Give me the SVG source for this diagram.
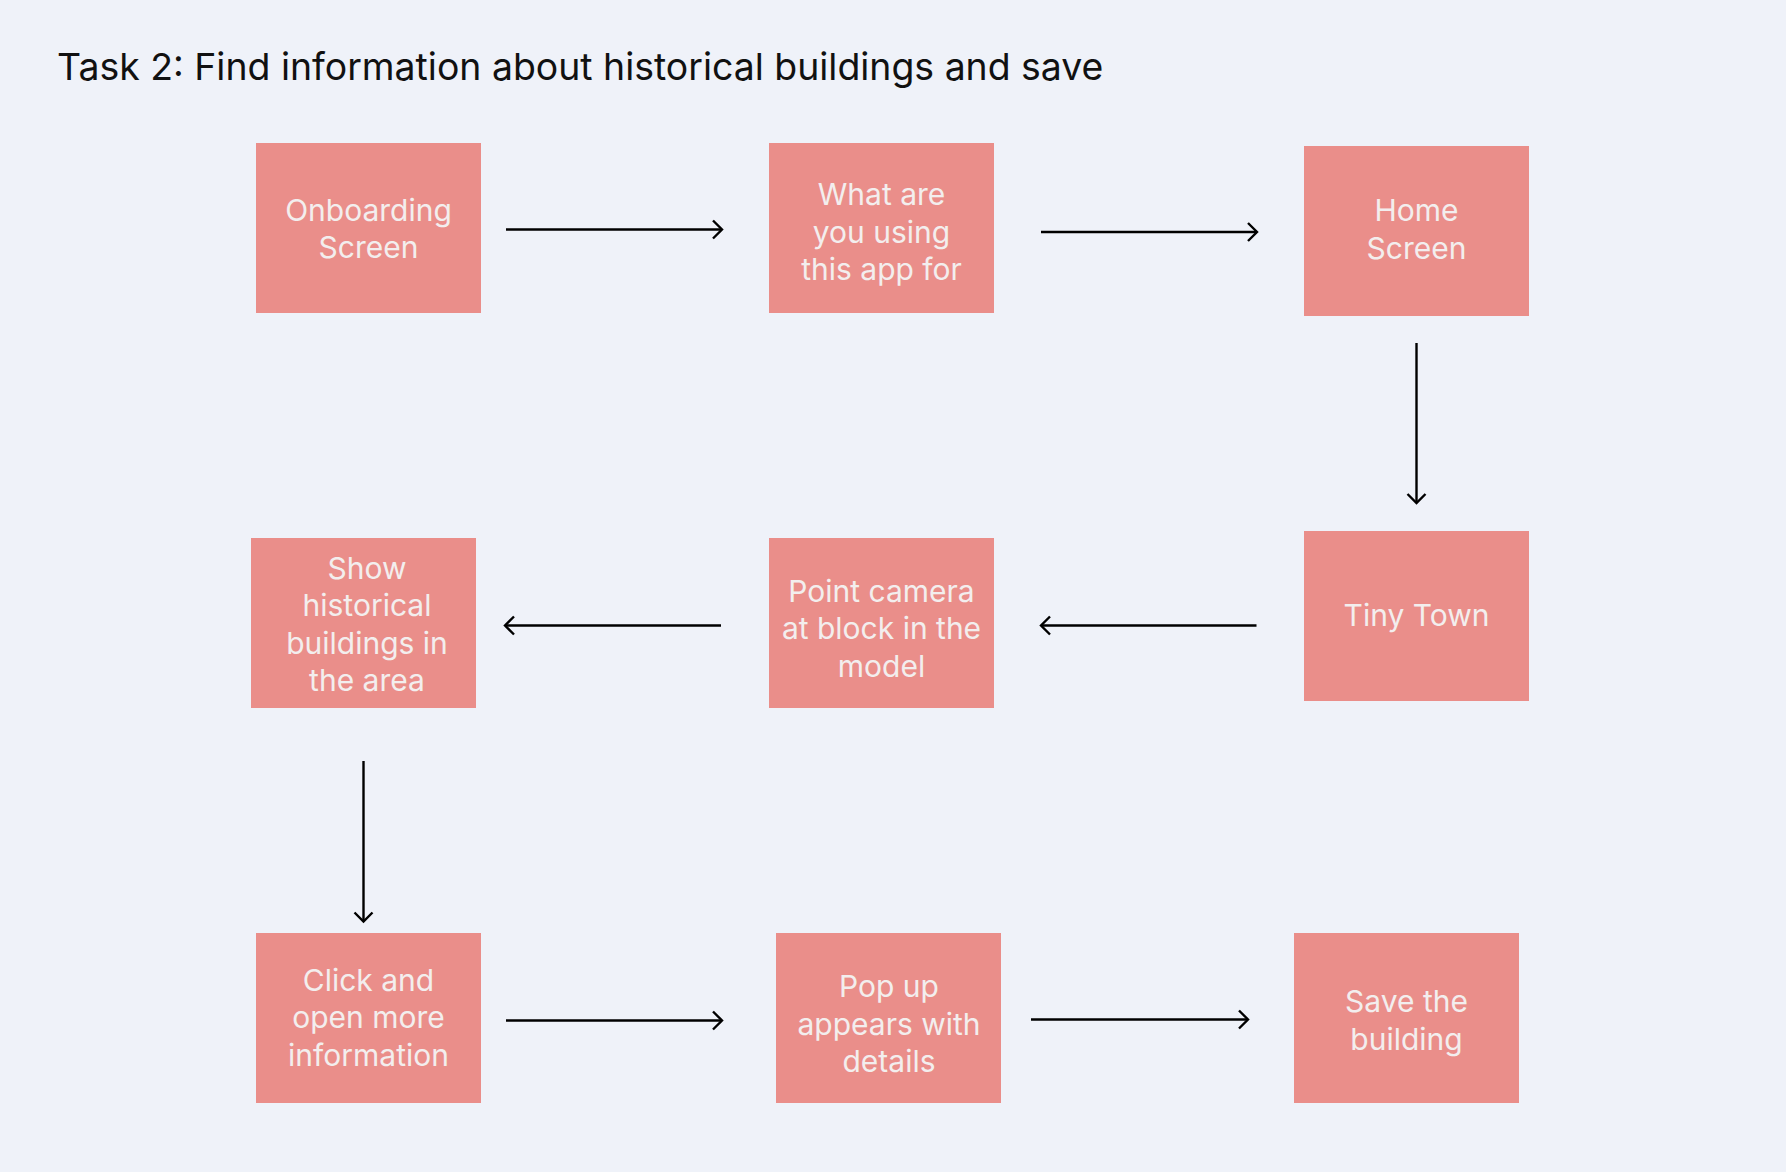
<svg xmlns="http://www.w3.org/2000/svg" width="1786" height="1172" viewBox="0 0 1786 1172">
  <style>
    .box { fill: #EA8E8A; }
    .lbl { font-family: Inter, "Open Sans", "Liberation Sans", sans-serif; font-size: 30px; fill: #F3EEEE; text-anchor: middle; }
    .title { font-family: Inter, "Open Sans", "Liberation Sans", sans-serif; font-size: 37.4px; fill: #111111; }
    .conn { stroke: #000000; stroke-width: 2.4; fill: none; marker-end: url(#arr); }
  </style>
  <defs>
    <marker id="arr" markerUnits="userSpaceOnUse" markerWidth="26" markerHeight="26" viewBox="-13 -13 26 26" refX="0" refY="0" orient="auto">
      <path d="M-9,-9 L0,0 L-9,9" fill="none" stroke="#000000" stroke-width="2.4"/>
    </marker>
  </defs>
  <rect x="0" y="0" width="1786" height="1172" fill="#EFF2F9"/>
  <text class="title" x="57" y="79.5">Task 2: Find information about historical buildings and save</text>

  <g id="n1">
    <rect class="box" x="256" y="143" width="225" height="170"/>
    <text class="lbl" x="368.5" y="220.5">Onboarding</text>
    <text class="lbl" x="368.5" y="258">Screen</text>
  </g>
  <g id="n2">
    <rect class="box" x="769" y="143" width="225" height="170"/>
    <text class="lbl" x="881.5" y="205">What are</text>
    <text class="lbl" x="881.5" y="242.5">you using</text>
    <text class="lbl" x="881.5" y="280">this app for</text>
  </g>
  <g id="n3">
    <rect class="box" x="1304" y="146" width="225" height="170"/>
    <text class="lbl" x="1416.5" y="221">Home</text>
    <text class="lbl" x="1416.5" y="258.5">Screen</text>
  </g>
  <g id="n4">
    <rect class="box" x="1304" y="531" width="225" height="170"/>
    <text class="lbl" x="1416.5" y="626">Tiny Town</text>
  </g>
  <g id="n5">
    <rect class="box" x="769" y="538" width="225" height="170"/>
    <text class="lbl" x="881.5" y="601.5">Point camera</text>
    <text class="lbl" x="881.5" y="639">at block in the</text>
    <text class="lbl" x="881.5" y="676.5">model</text>
  </g>
  <g id="n6">
    <rect class="box" x="251" y="538" width="225" height="170"/>
    <text class="lbl" x="367" y="578.5">Show</text>
    <text class="lbl" x="367" y="616">historical</text>
    <text class="lbl" x="367" y="653.5">buildings in</text>
    <text class="lbl" x="367" y="691">the area</text>
  </g>
  <g id="n7">
    <rect class="box" x="256" y="933" width="225" height="170"/>
    <text class="lbl" x="368.5" y="990.5">Click and</text>
    <text class="lbl" x="368.5" y="1028">open more</text>
    <text class="lbl" x="368.5" y="1065.5">information</text>
  </g>
  <g id="n8">
    <rect class="box" x="776" y="933" width="225" height="170"/>
    <text class="lbl" x="889" y="997">Pop up</text>
    <text class="lbl" x="889" y="1034.5">appears with</text>
    <text class="lbl" x="889" y="1072">details</text>
  </g>
  <g id="n9">
    <rect class="box" x="1294" y="933" width="225" height="170"/>
    <text class="lbl" x="1406.5" y="1012">Save the</text>
    <text class="lbl" x="1406.5" y="1049.5">building</text>
  </g>

  <g id="connectors">
    <line class="conn" x1="506" y1="229.5" x2="722" y2="229.5"/>
    <line class="conn" x1="1041" y1="232" x2="1257" y2="232"/>
    <line class="conn" x1="1416.5" y1="343" x2="1416.5" y2="503"/>
    <line class="conn" x1="1256.5" y1="625.5" x2="1041" y2="625.5"/>
    <line class="conn" x1="721" y1="625.5" x2="505" y2="625.5"/>
    <line class="conn" x1="363.5" y1="761" x2="363.5" y2="921.5"/>
    <line class="conn" x1="506" y1="1020.5" x2="722" y2="1020.5"/>
    <line class="conn" x1="1031" y1="1019.5" x2="1248" y2="1019.5"/>
  </g>
</svg>
